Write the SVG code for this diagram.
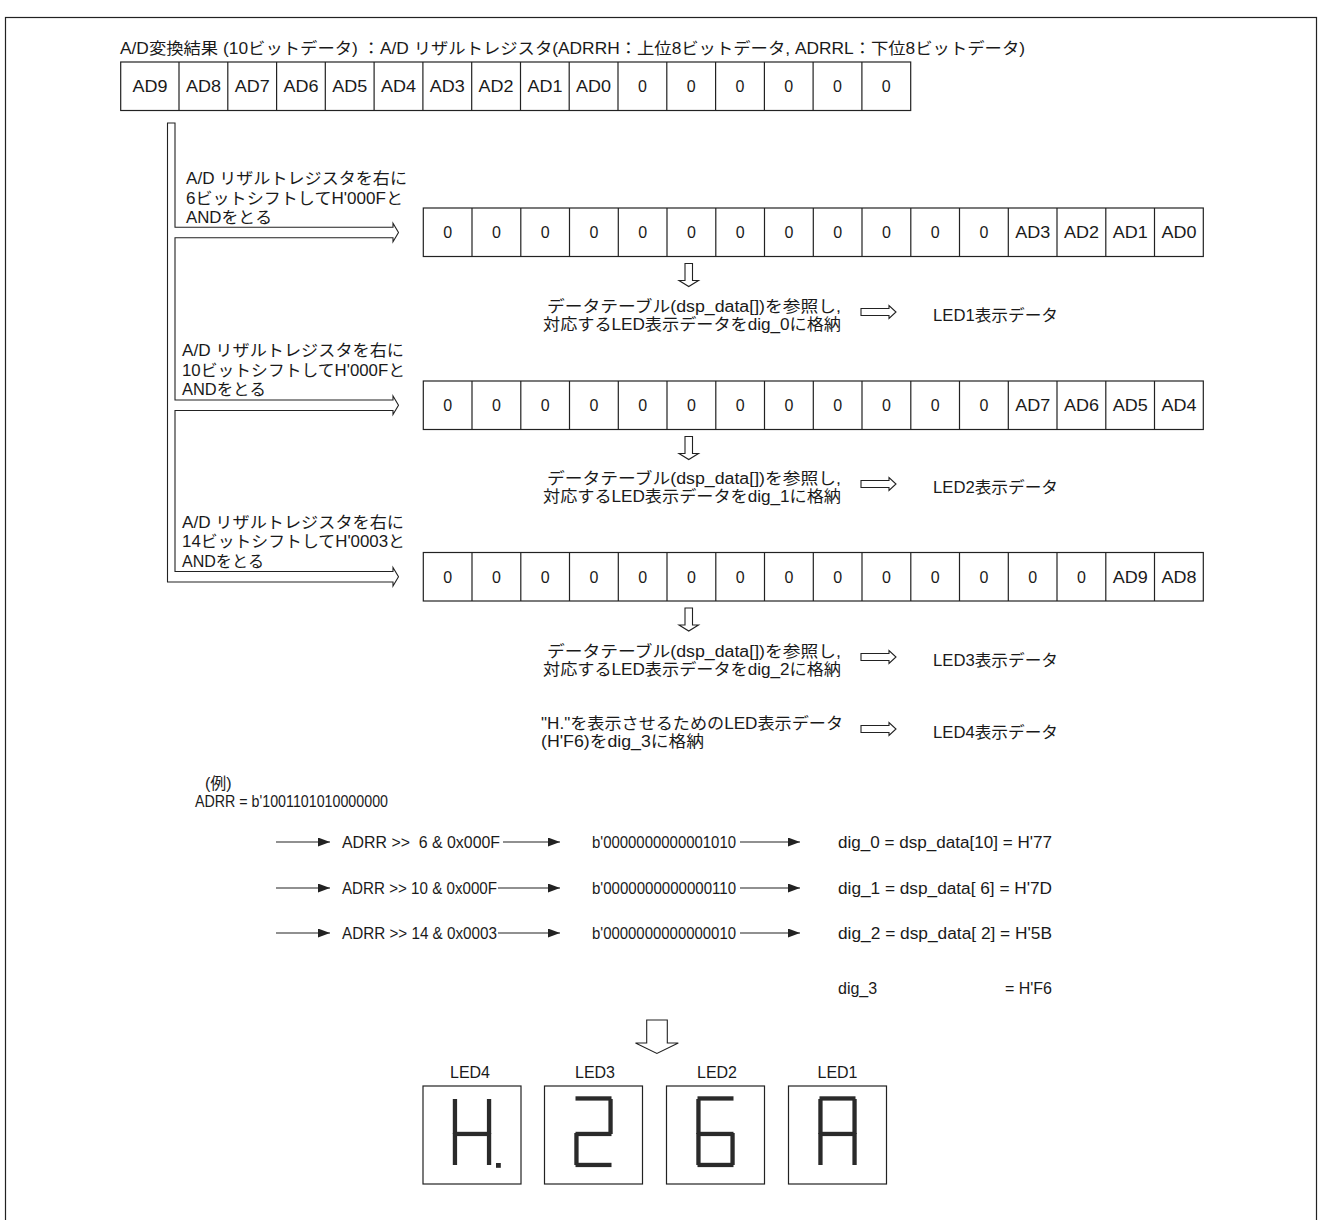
<svg xmlns="http://www.w3.org/2000/svg" width="1324" height="1220" viewBox="0 0 1324 1220">
<style>
.t{font-family:'Liberation Sans','Noto Sans CJK JP',sans-serif;font-size:16px;fill:#1a1a1a}
.m{text-anchor:middle}
.e{text-anchor:end}
.pre{white-space:pre}
.box{fill:#fff;stroke:#222;stroke-width:1.2}
.ln{fill:none;stroke:#222;stroke-width:1.2}
.ar{fill:none;stroke:#222;stroke-width:1.2}
.ho{fill:#fff;stroke:#222;stroke-width:1.1}
.seg{fill:#2a2a2a}
</style>
<defs>
<marker id="ah" viewBox="0 0 12 9" refX="12" refY="4.5" markerWidth="12" markerHeight="9" markerUnits="userSpaceOnUse" orient="auto"><path d="M0,0 L12,4.5 L0,9 z" fill="#222"/></marker>
<rect id="sa" class="seg" x="31" y="10.3" width="36" height="4.3"/>
<rect id="sg" class="seg" x="31" y="45.8" width="36" height="4.3"/>
<rect id="sd" class="seg" x="31" y="76.8" width="36" height="4.3"/>
<rect id="sf" class="seg" x="29.8" y="13" width="4.3" height="35"/>
<rect id="se" class="seg" x="29.8" y="47" width="4.3" height="32"/>
<rect id="sb" class="seg" x="63.9" y="13" width="4.3" height="35"/>
<rect id="sc" class="seg" x="63.9" y="47" width="4.3" height="32"/>
<rect id="sp" class="seg" x="73" y="77" width="4.8" height="4.8"/>
</defs>
<rect width="1324" height="1220" fill="#fff"/>
<rect x="5.5" y="17.5" width="1311" height="1230" class="ln"/>

<g id="header">
<text class="t" x="120" y="53.5" textLength="905" lengthAdjust="spacingAndGlyphs">A/D変換結果 (10ビットデータ) ：A/D リザルトレジスタ(ADRRH：上位8ビットデータ, ADRRL：下位8ビットデータ)</text>
</g>

<g id="reg-adrr">
<rect class="box" x="120.7" y="62" width="790" height="48.5"/>
<path class="ln" d="M179,62V110.5M227.8,62V110.5M276.6,62V110.5M325.3,62V110.5M374.1,62V110.5M422.9,62V110.5M471.7,62V110.5M520.5,62V110.5M569.2,62V110.5M618,62V110.5M666.8,62V110.5M715.6,62V110.5M764.4,62V110.5M813.1,62V110.5M861.9,62V110.5"/>
<g class="t m">
<text x="149.9" y="92" textLength="35" lengthAdjust="spacingAndGlyphs">AD9</text>
<text x="203.4" y="92" textLength="35" lengthAdjust="spacingAndGlyphs">AD8</text>
<text x="252.2" y="92" textLength="35" lengthAdjust="spacingAndGlyphs">AD7</text>
<text x="301" y="92" textLength="35" lengthAdjust="spacingAndGlyphs">AD6</text>
<text x="349.7" y="92" textLength="35" lengthAdjust="spacingAndGlyphs">AD5</text>
<text x="398.5" y="92" textLength="35" lengthAdjust="spacingAndGlyphs">AD4</text>
<text x="447.3" y="92" textLength="35" lengthAdjust="spacingAndGlyphs">AD3</text>
<text x="496.1" y="92" textLength="35" lengthAdjust="spacingAndGlyphs">AD2</text>
<text x="544.9" y="92" textLength="35" lengthAdjust="spacingAndGlyphs">AD1</text>
<text x="593.6" y="92" textLength="35" lengthAdjust="spacingAndGlyphs">AD0</text>
<text x="642.4" y="92">0</text>
<text x="691.2" y="92">0</text>
<text x="740" y="92">0</text>
<text x="788.8" y="92">0</text>
<text x="837.5" y="92">0</text>
<text x="886.3" y="92">0</text>
</g>
</g>

<g id="shift1-label" class="t">
<text x="186" y="184.3" textLength="221" lengthAdjust="spacingAndGlyphs">A/D リザルトレジスタを右に</text>
<text x="186" y="203.8" textLength="217" lengthAdjust="spacingAndGlyphs">6ビットシフトしてH'000Fと</text>
<text x="186" y="223.3" textLength="86" lengthAdjust="spacingAndGlyphs">ANDをとる</text>
</g>
<g id="shift2-label" class="t">
<text x="182" y="356" textLength="222" lengthAdjust="spacingAndGlyphs">A/D リザルトレジスタを右に</text>
<text x="182" y="375.5" textLength="223" lengthAdjust="spacingAndGlyphs">10ビットシフトしてH'000Fと</text>
<text x="182" y="395" textLength="84" lengthAdjust="spacingAndGlyphs">ANDをとる</text>
</g>
<g id="shift3-label" class="t">
<text x="182" y="527.5" textLength="222" lengthAdjust="spacingAndGlyphs">A/D リザルトレジスタを右に</text>
<text x="182" y="547" textLength="223" lengthAdjust="spacingAndGlyphs">14ビットシフトしてH'0003と</text>
<text x="182" y="566.5" textLength="82" lengthAdjust="spacingAndGlyphs">ANDをとる</text>
</g>

<g id="row1">
<rect class="box" x="423.3" y="208" width="780" height="48.5"/>
<path class="ln" d="M472,208v48.5M520.8,208v48.5M569.5,208v48.5M618.3,208v48.5M667,208v48.5M715.8,208v48.5M764.5,208v48.5M813.3,208v48.5M862,208v48.5M910.8,208v48.5M959.5,208v48.5M1008.3,208v48.5M1057,208v48.5M1105.8,208v48.5M1154.5,208v48.5"/>
<g class="t m">
<text x="447.7" y="238">0</text><text x="496.4" y="238">0</text><text x="545.2" y="238">0</text><text x="593.9" y="238">0</text>
<text x="642.7" y="238">0</text><text x="691.4" y="238">0</text><text x="740.2" y="238">0</text><text x="788.9" y="238">0</text>
<text x="837.7" y="238">0</text><text x="886.4" y="238">0</text><text x="935.2" y="238">0</text><text x="983.9" y="238">0</text>
<text x="1032.7" y="238" textLength="35" lengthAdjust="spacingAndGlyphs">AD3</text>
<text x="1081.4" y="238" textLength="35" lengthAdjust="spacingAndGlyphs">AD2</text>
<text x="1130.2" y="238" textLength="35" lengthAdjust="spacingAndGlyphs">AD1</text>
<text x="1178.9" y="238" textLength="35" lengthAdjust="spacingAndGlyphs">AD0</text>
</g>
</g>

<g id="row2">
<rect class="box" x="423.3" y="381" width="780" height="48.5"/>
<path class="ln" d="M472,381v48.5M520.8,381v48.5M569.5,381v48.5M618.3,381v48.5M667,381v48.5M715.8,381v48.5M764.5,381v48.5M813.3,381v48.5M862,381v48.5M910.8,381v48.5M959.5,381v48.5M1008.3,381v48.5M1057,381v48.5M1105.8,381v48.5M1154.5,381v48.5"/>
<g class="t m">
<text x="447.7" y="411">0</text><text x="496.4" y="411">0</text><text x="545.2" y="411">0</text><text x="593.9" y="411">0</text>
<text x="642.7" y="411">0</text><text x="691.4" y="411">0</text><text x="740.2" y="411">0</text><text x="788.9" y="411">0</text>
<text x="837.7" y="411">0</text><text x="886.4" y="411">0</text><text x="935.2" y="411">0</text><text x="983.9" y="411">0</text>
<text x="1032.7" y="411" textLength="35" lengthAdjust="spacingAndGlyphs">AD7</text>
<text x="1081.4" y="411" textLength="35" lengthAdjust="spacingAndGlyphs">AD6</text>
<text x="1130.2" y="411" textLength="35" lengthAdjust="spacingAndGlyphs">AD5</text>
<text x="1178.9" y="411" textLength="35" lengthAdjust="spacingAndGlyphs">AD4</text>
</g>
</g>

<g id="row3">
<rect class="box" x="423.3" y="552.5" width="780" height="48.5"/>
<path class="ln" d="M472,552.5v48.5M520.8,552.5v48.5M569.5,552.5v48.5M618.3,552.5v48.5M667,552.5v48.5M715.8,552.5v48.5M764.5,552.5v48.5M813.3,552.5v48.5M862,552.5v48.5M910.8,552.5v48.5M959.5,552.5v48.5M1008.3,552.5v48.5M1057,552.5v48.5M1105.8,552.5v48.5M1154.5,552.5v48.5"/>
<g class="t m">
<text x="447.7" y="582.5">0</text><text x="496.4" y="582.5">0</text><text x="545.2" y="582.5">0</text><text x="593.9" y="582.5">0</text>
<text x="642.7" y="582.5">0</text><text x="691.4" y="582.5">0</text><text x="740.2" y="582.5">0</text><text x="788.9" y="582.5">0</text>
<text x="837.7" y="582.5">0</text><text x="886.4" y="582.5">0</text><text x="935.2" y="582.5">0</text><text x="983.9" y="582.5">0</text>
<text x="1032.7" y="582.5">0</text><text x="1081.4" y="582.5">0</text>
<text x="1130.2" y="582.5" textLength="35" lengthAdjust="spacingAndGlyphs">AD9</text>
<text x="1178.9" y="582.5" textLength="35" lengthAdjust="spacingAndGlyphs">AD8</text>
</g>
</g>

<g id="lookup1" class="t">
<text x="547" y="311.5" textLength="294" lengthAdjust="spacingAndGlyphs">データテーブル(dsp_data[])を参照し,</text>
<text x="543" y="330" textLength="298" lengthAdjust="spacingAndGlyphs">対応するLED表示データをdig_0に格納</text>
</g>
<g id="led1-data" class="t"><text x="933" y="321" textLength="125" lengthAdjust="spacingAndGlyphs">LED1表示データ</text></g>

<g id="lookup2" class="t">
<text x="547" y="483.5" textLength="294" lengthAdjust="spacingAndGlyphs">データテーブル(dsp_data[])を参照し,</text>
<text x="543" y="502" textLength="298" lengthAdjust="spacingAndGlyphs">対応するLED表示データをdig_1に格納</text>
</g>
<g id="led2-data" class="t"><text x="933" y="493" textLength="125" lengthAdjust="spacingAndGlyphs">LED2表示データ</text></g>

<g id="lookup3" class="t">
<text x="547" y="656.5" textLength="294" lengthAdjust="spacingAndGlyphs">データテーブル(dsp_data[])を参照し,</text>
<text x="543" y="675" textLength="298" lengthAdjust="spacingAndGlyphs">対応するLED表示データをdig_2に格納</text>
</g>
<g id="led3-data" class="t"><text x="933" y="666" textLength="125" lengthAdjust="spacingAndGlyphs">LED3表示データ</text></g>

<g id="h-data" class="t">
<text x="541" y="728.5" textLength="302" lengthAdjust="spacingAndGlyphs">"H."を表示させるためのLED表示データ</text>
<text x="541" y="747" textLength="163" lengthAdjust="spacingAndGlyphs">(H'F6)をdig_3に格納</text>
</g>
<g id="led4-data" class="t"><text x="933" y="738" textLength="125" lengthAdjust="spacingAndGlyphs">LED4表示データ</text></g>

<g id="example" class="t">
<text x="205" y="789">(例)</text>
<text x="195" y="807" textLength="193" lengthAdjust="spacingAndGlyphs">ADRR = b'1001101010000000</text>
<text class="t pre" x="342" y="848" textLength="158" lengthAdjust="spacingAndGlyphs">ADRR &gt;&gt;  6 &amp; 0x000F</text>
<text x="592" y="848" textLength="144" lengthAdjust="spacingAndGlyphs">b'0000000000001010</text>
<text x="838" y="848" textLength="214" lengthAdjust="spacingAndGlyphs">dig_0 = dsp_data[10] = H'77</text>
<text x="342" y="894" textLength="155" lengthAdjust="spacingAndGlyphs">ADRR &gt;&gt; 10 &amp; 0x000F</text>
<text x="592" y="894" textLength="144" lengthAdjust="spacingAndGlyphs">b'0000000000000110</text>
<text class="t pre" x="838" y="894" textLength="214" lengthAdjust="spacingAndGlyphs">dig_1 = dsp_data[ 6] = H'7D</text>
<text x="342" y="939" textLength="155" lengthAdjust="spacingAndGlyphs">ADRR &gt;&gt; 14 &amp; 0x0003</text>
<text x="592" y="939" textLength="144" lengthAdjust="spacingAndGlyphs">b'0000000000000010</text>
<text class="t pre" x="838" y="939" textLength="214" lengthAdjust="spacingAndGlyphs">dig_2 = dsp_data[ 2] = H'5B</text>
<text x="838" y="994">dig_3</text>
<text class="t e" x="1052" y="994">= H'F6</text>
</g>

<g id="connectors">
<path class="ho" d="M175,123 V227.3 H393 V223.3 L398.5,232.55 L393,241.8 V237.8 H175 V400 H393 V396 L398.5,405.25 L393,414.5 V410.5 H175 V571.5 H393 V567.5 L398.5,576.75 L393,586 V582 H167.5 V123 Z"/>
<polygon class="ho" points="685,263.5 692.5,263.5 692.5,280.5 698.5,280.5 688.75,286.5 679,280.5 685,280.5"/>
<polygon class="ho" points="685,436.5 692.5,436.5 692.5,453.5 698.5,453.5 688.75,459.5 679,453.5 685,453.5"/>
<polygon class="ho" points="685,608 692.5,608 692.5,625 698.5,625 688.75,631 679,625 685,625"/>
<polygon class="ho" points="861,308.5 889,308.5 889,305.5 896,312 889,318.5 889,315.5 861,315.5"/>
<polygon class="ho" points="861,480.5 889,480.5 889,477.5 896,484 889,490.5 889,487.5 861,487.5"/>
<polygon class="ho" points="861,653.5 889,653.5 889,650.5 896,657 889,663.5 889,660.5 861,660.5"/>
<polygon class="ho" points="861,725.5 889,725.5 889,722.5 896,729 889,735.5 889,732.5 861,732.5"/>
<g class="ar" marker-end="url(#ah)">
<line x1="276" y1="842" x2="330" y2="842"/>
<line x1="503" y1="842" x2="560" y2="842"/>
<line x1="740" y1="842" x2="800" y2="842"/>
<line x1="276" y1="888" x2="330" y2="888"/>
<line x1="498" y1="888" x2="560" y2="888"/>
<line x1="740" y1="888" x2="800" y2="888"/>
<line x1="276" y1="933" x2="330" y2="933"/>
<line x1="498" y1="933" x2="560" y2="933"/>
<line x1="740" y1="933" x2="800" y2="933"/>
</g>
<polygon class="ho" points="646.7,1020 667.3,1020 667.3,1043 678.3,1043 656.9,1053.5 635.5,1043 646.7,1043"/>
</g>

<g id="led4">
<text class="t m" x="470" y="1078">LED4</text>
<rect class="box" x="423" y="1086" width="98" height="98"/>
<use href="#sf" x="423" y="1086"/><use href="#se" x="423" y="1086"/><use href="#sb" x="423" y="1086"/><use href="#sc" x="423" y="1086"/><use href="#sg" x="423" y="1086"/><use href="#sp" x="423" y="1086"/>
</g>
<g id="led3">
<text class="t m" x="595" y="1078">LED3</text>
<rect class="box" x="544.5" y="1086" width="98" height="98"/>
<use href="#sa" x="544.5" y="1086"/><use href="#sb" x="544.5" y="1086"/><use href="#sg" x="544.5" y="1086"/><use href="#se" x="544.5" y="1086"/><use href="#sd" x="544.5" y="1086"/>
</g>
<g id="led2">
<text class="t m" x="717" y="1078">LED2</text>
<rect class="box" x="666.5" y="1086" width="98" height="98"/>
<use href="#sa" x="666.5" y="1086"/><use href="#sf" x="666.5" y="1086"/><use href="#se" x="666.5" y="1086"/><use href="#sd" x="666.5" y="1086"/><use href="#sc" x="666.5" y="1086"/><use href="#sg" x="666.5" y="1086"/>
</g>
<g id="led1">
<text class="t m" x="837.5" y="1078">LED1</text>
<rect class="box" x="788.5" y="1086" width="98" height="98"/>
<use href="#sa" x="788.5" y="1086"/><use href="#sb" x="788.5" y="1086"/><use href="#sc" x="788.5" y="1086"/><use href="#se" x="788.5" y="1086"/><use href="#sf" x="788.5" y="1086"/><use href="#sg" x="788.5" y="1086"/>
</g>
</svg>
